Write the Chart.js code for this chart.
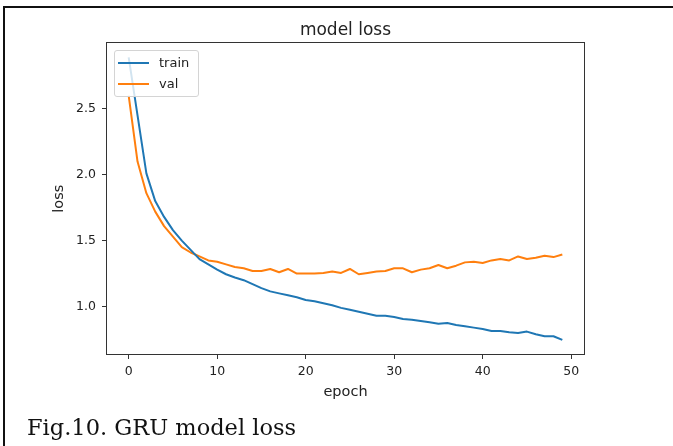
<!DOCTYPE html>
<html>
<head>
<meta charset="utf-8">
<script src="https://cdn.jsdelivr.net/npm/chart.js@4.4.1/dist/chart.umd.min.js"></script>
<style>
  html,body{margin:0;padding:0;background:#fff;}
  #wrap{position:relative;width:673px;height:446px;overflow:hidden;}
  #frame{position:absolute;left:3px;top:6px;width:700px;height:470px;border-top:2px solid #111;border-left:2px solid #111;}
  #lossChart{position:absolute;left:0;top:0;}
  #legend{position:absolute;left:114px;top:50px;width:83px;height:45px;border:1px solid #d4d4d4;border-radius:3px;background:rgba(255,255,255,0.8);font:13px 'DejaVu Sans';color:#222;}
  #legend .item{position:absolute;left:0;height:16px;width:83px;}
  #legend .sw{position:absolute;left:3px;top:7px;width:31px;height:2px;}
  #legend .lb{position:absolute;left:44px;top:0;line-height:16px;}
  #caption{position:absolute;left:27px;top:416px;font:22.5px 'DejaVu Serif';line-height:22px;color:#111;white-space:nowrap;}
</style>
</head>
<body>
<div id="wrap">
  <div id="frame"></div>
  <canvas id="lossChart" width="673" height="446"></canvas>
  <div id="legend"></div>
  <div id="caption">Fig.10. GRU model loss</div>
</div>
<script>
// values
const epochs = Array.from({length: 50}, (_, i) => i);
const trainLoss = [2.89, 2.45, 2.01, 1.80, 1.68, 1.58, 1.50, 1.43, 1.36, 1.32,
                   1.28, 1.245, 1.22, 1.20, 1.17, 1.14, 1.115, 1.10, 1.085, 1.07,
                   1.05, 1.04, 1.025, 1.01, 0.99, 0.975, 0.96, 0.945, 0.93, 0.93,
                   0.92, 0.905, 0.90, 0.89, 0.88, 0.87, 0.875, 0.86, 0.85, 0.84,
                   0.83, 0.815, 0.815, 0.805, 0.80, 0.81, 0.79, 0.775, 0.775, 0.747];
const valLoss = [2.60, 2.10, 1.86, 1.72, 1.61, 1.53, 1.45, 1.41, 1.38, 1.35,
                 1.34, 1.32, 1.30, 1.29, 1.27, 1.27, 1.285, 1.26, 1.285, 1.25,
                 1.25, 1.25, 1.255, 1.265, 1.255, 1.285, 1.245, 1.255, 1.265, 1.27,
                 1.29, 1.29, 1.26, 1.28, 1.29, 1.315, 1.29, 1.31, 1.335, 1.34,
                 1.33, 1.35, 1.36, 1.35, 1.38, 1.36, 1.37, 1.385, 1.375, 1.395];
const xTicks = [0, 10, 20, 30, 40, 50];
const yTicks = [1.0, 1.5, 2.0, 2.5];

const txt = '#222';
const axisCol = '#333';

const spines = {
  id: 'spines',
  afterDraw(chart){
    const {ctx, chartArea:a} = chart;
    ctx.save();
    ctx.strokeStyle = axisCol;
    ctx.lineWidth = 1;
    ctx.strokeRect(Math.round(a.left)-0.5, Math.round(a.top)-0.5, Math.round(a.right-a.left)+1, Math.round(a.bottom-a.top)+1);
    ctx.restore();
  }
};

const chart = new Chart(document.getElementById('lossChart'), {
  type: 'line',
  data: {
    datasets: [
      { label: 'train', data: epochs.map((e, i) => ({x: e, y: trainLoss[i]})), borderColor: '#1f77b4', borderWidth: 2, pointRadius: 0, tension: 0, borderJoinStyle: 'round' },
      { label: 'val', data: epochs.map((e, i) => ({x: e, y: valLoss[i]})), borderColor: '#ff7f0e', borderWidth: 2, pointRadius: 0, tension: 0, borderJoinStyle: 'round' }
    ]
  },
  options: {
    responsive: false,
    animation: false,
    devicePixelRatio: 1,
    layout: { padding: { left: 47, right: 89, top: 0, bottom: 41 } },
    plugins: {
      legend: { display: false },
      tooltip: { enabled: false },
      title: { display: true, text: 'model loss', fullSize: false, color: txt,
               font: { family: 'DejaVu Sans', size: 17, weight: 'normal' },
               padding: { top: 20, bottom: 3 } }
    },
    scales: {
      x: {
        type: 'linear', min: -2.45, max: 51.45,
        afterBuildTicks: s => { s.ticks = xTicks.map(v => ({value: v})); },
        afterFit: s => { s.height = 51; },
        border: { display: false },
        grid: { drawOnChartArea: false, drawTicks: true, tickLength: 5, color: axisCol },
        ticks: { color: txt, padding: 5, maxRotation: 0, font: { family: 'DejaVu Sans', size: 12.5 } },
        title: { display: true, text: 'epoch', color: txt, font: { family: 'DejaVu Sans', size: 14.5 }, padding: { top: 4, bottom: 4 } }
      },
      y: {
        type: 'linear', min: 0.64, max: 2.996,
        afterBuildTicks: s => { s.ticks = yTicks.map(v => ({value: v})); },
        afterFit: s => { s.width = 60; },
        border: { display: false },
        grid: { drawOnChartArea: false, drawTicks: true, tickLength: 5, color: axisCol },
        ticks: { color: txt, padding: 6, callback: v => v.toFixed(1), font: { family: 'DejaVu Sans', size: 12.5 } },
        title: { display: true, text: 'loss', color: txt, font: { family: 'DejaVu Sans', size: 14.5 }, padding: { top: 4, bottom: 4 } }
      }
    }
  },
  plugins: [spines]
});

// legend box inside the plot, built from the datasets
const lg = document.getElementById('legend');
chart.data.datasets.forEach((ds, i) => {
  const it = document.createElement('div');
  it.className = 'item';
  it.style.top = (4 + i * 20.5) + 'px';
  it.innerHTML = '<div class="sw" style="background:' + ds.borderColor + '"></div><div class="lb">' + ds.label + '</div>';
  lg.appendChild(it);
});
</script>
</body>
</html>
